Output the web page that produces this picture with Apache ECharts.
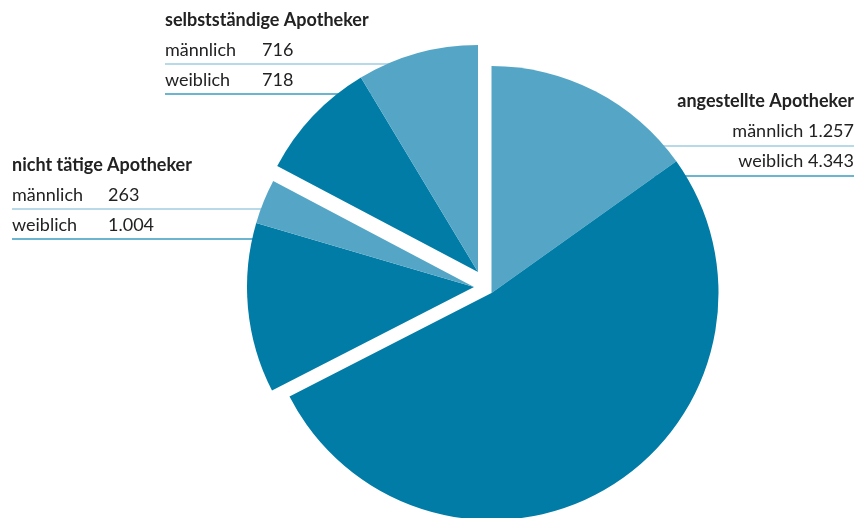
<!DOCTYPE html>
<html><head><meta charset="utf-8">
<script src="https://cdn.jsdelivr.net/npm/echarts@6/dist/echarts.min.js"></script>
<style>html,body{margin:0;padding:0;background:#fff}#c{width:859px;height:518px}</style>
</head><body><div id="c"></div>
<script>
var groups = ['angestellte Apotheker', 'nicht tätige Apotheker', 'selbstständige Apotheker'];
var male = [1257, 263, 716];
var female = [4343, 1004, 718];
var genderLabels = ['männlich', 'weiblich'];

var LIGHT = '#55a6c6', DARK = '#007ca7';
var LINE_LIGHT = '#9fcde0', LINE_DARK = '#3a9cc2';
var FONT = 'Lato, "Source Sans Pro", sans-serif';

function fmt(n){ return String(n).replace(/\B(?=(\d{3})+(?!\d))/g, '.'); }

var total = 0;
for (var i = 0; i < 3; i++) total += male[i] + female[i];
var ph = {itemStyle:{color:'rgba(0,0,0,0)'}, label:{show:false}, emphasis:{disabled:true}};
function slice(v, c){ return {value:v, itemStyle:{color:c}}; }
function blank(v){ return Object.assign({value:v}, ph); }

var aSum = male[0]+female[0], nSum = male[1]+female[1], sSum = male[2]+female[2];
var base = {type:'pie', radius:227, startAngle:90, clockwise:true, label:{show:false}, labelLine:{show:false}, silent:true, animation:false, avoidLabelOverlap:false, minAngle:0, z:5};
var series = [
  Object.assign({}, base, {center:[491.5,293], data:[slice(male[0],LIGHT), slice(female[0],DARK), blank(total-aSum)]}),
  Object.assign({}, base, {center:[474,287], data:[blank(aSum), slice(female[1],DARK), slice(male[1],LIGHT), blank(sSum)]}),
  Object.assign({}, base, {center:[478,272], data:[blank(aSum+nSum), slice(female[2],DARK), slice(male[2],LIGHT)]})
];

var g = [];
function txt(x,y,s,bold,align){ g.push({type:'text', x:x, y:y, z:10, style:{text:s, fill:'#222', font:(bold?'bold ':'')+'18px '+FONT, textAlign:align||'left', textVerticalAlign:'middle'}}); }
function line(x1,y,x2,c){ g.push({type:'line', z:0, shape:{x1:x1,y1:y,x2:x2,y2:y}, style:{stroke:c, lineWidth:1.5}}); }

// selbstständige (left top)
txt(165,20,groups[2],true);
txt(165,50,genderLabels[0]); txt(262,50,fmt(male[2]));
line(165,64,430,LINE_LIGHT);
txt(165,80,genderLabels[1]); txt(262,80,fmt(female[2]));
line(165,94,430,LINE_DARK);
// nicht tätige (left middle)
txt(12,165,groups[1],true);
txt(12,195,genderLabels[0]); txt(108,195,fmt(male[1]));
line(12,209,262,LINE_LIGHT);
txt(12,225,genderLabels[1]); txt(108,225,fmt(female[1]));
line(12,239,262,LINE_DARK);
// angestellte (right)
txt(854,101,groups[0],true,'right');
txt(854,131,genderLabels[0]+' '+fmt(male[0]),false,'right');
line(640,146,854,LINE_LIGHT);
txt(854,161,genderLabels[1]+' '+fmt(female[0]),false,'right');
line(640,176,854,LINE_DARK);

var chart = echarts.init(document.getElementById('c'));
chart.setOption({animation:false, series:series, graphic:{elements:g}});
</script></body></html>
